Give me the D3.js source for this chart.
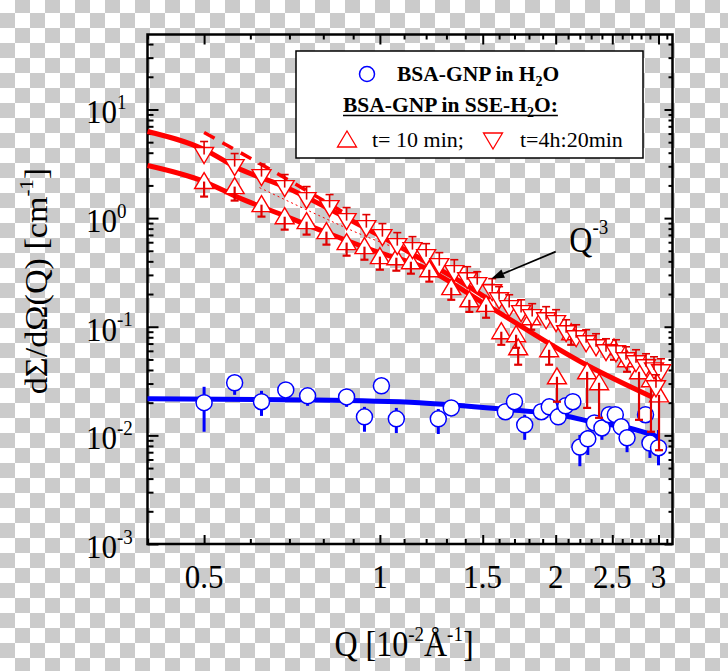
<!DOCTYPE html>
<html>
<head>
<meta charset="utf-8">
<script src="https://cdn.jsdelivr.net/npm/d3@7"></script>
<style>
html, body {margin: 0; padding: 0;}
svg {display: block; font-family: "Liberation Serif", "Times New Roman", serif;}
</style>
</head>
<body>
<script>
"use strict";

// Data (Q in 10^-2 A^-1, intensity in cm^-1)

let xMajor = [0.5, 1, 1.5, 2, 2.5, 3];
let xLabels = ["0.5", "1", "1.5", "2", "2.5", "3"];
let xMinor = [0.4, 0.6, 0.7, 0.8, 0.9, 1.1, 1.2, 1.3, 1.4, 1.6, 1.7, 1.8, 1.9,
              2.1, 2.2, 2.3, 2.4, 2.6, 2.7, 2.8, 2.9, 3.1];
let yMajor = [1e-3, 1e-2, 1e-1, 1, 10];
let yExp = ["-3", "-2", "-1", "0", "1"];

let blueQ = [0.50, 0.564, 0.627, 0.69, 0.752, 0.877, 0.941, 1.006, 1.067, 1.259, 1.325, 1.64, 1.70, 1.77, 1.89,
             1.95, 2.02, 2.08, 2.14, 2.20, 2.27, 2.33, 2.40, 2.47, 2.53, 2.59, 2.65, 2.85, 2.90, 3.0];
let blueI = [0.020, 0.0305, 0.0204, 0.0262, 0.0231, 0.0226, 0.0148, 0.0286, 0.0142, 0.0142, 0.0179, 0.0165, 0.0204, 0.0125, 0.0165,
             0.0183, 0.0148, 0.0187, 0.0204, 0.0078, 0.0093, 0.0130, 0.0117, 0.0155, 0.0155, 0.0120, 0.0095, 0.0155, 0.0085, 0.0077];
let blueLo = [0.0108, 0.0236, 0.0151, 0.0222, 0.0187, 0.0183, 0.0108, 0.0280, 0.0105, 0.0103, 0.0165, 0.0148, 0.0187, 0.0091, 0.0145,
              0.0165, 0.0128, 0.0165, 0.0187, 0.0052, 0.0066, 0.0112, 0.0091, 0.0130, 0.0139, 0.0099, 0.0070, 0.0139, 0.0062, 0.0053];
let blueHi = [0.028, 0.0353, 0.0257, 0.0286, 0.0257, 0.0257, 0.0183, 0.0292, 0.0179, 0.0175, 0.0195, 0.0187, 0.0226, 0.0155, 0.0191,
              0.0204, 0.0172, 0.0212, 0.0226, 0.0101, 0.0112, 0.0148, 0.0139, 0.0179, 0.0172, 0.0145, 0.0117, 0.0172, 0.0108, 0.0112];

// t = 10 min (up triangles)
let upQ = [0.50, 0.564, 0.627, 0.687, 0.749, 0.810, 0.877, 0.941, 1.00, 1.067, 1.13, 1.215, 1.325, 1.423, 1.52,
           1.614, 1.711, 1.725, 1.816, 1.949, 2.01, 2.126, 2.264, 2.373, 2.517, 2.65, 2.778, 2.912, 3.006];
let upI = [2.17, 1.95, 1.33, 1.03, 0.928, 0.751, 0.595, 0.546, 0.442, 0.432, 0.397, 0.335, 0.229, 0.177, 0.160,
           0.090, 0.0844, 0.064, 0.121, 0.0614, 0.0346, 0.0881, 0.0385, 0.0305, 0.064, 0.0497, 0.0385, 0.0325, 0.0236];
let upLo = [1.578, 1.450, 1.032, 0.783, 0.705, 0.570, 0.451, 0.414, 0.335, 0.328, 0.308, 0.260, 0.177, 0.137, 0.121,
            0.0682, 0.064, 0.0447, 0.0938, 0.0447, 0.0204, 0.0682, 0.0179, 0.0145, 0.0497, 0.0385, 0.0139, 0.0108, 0.0073];

// t = 4h:20min (down triangles)
let dnQ = [0.50, 0.564, 0.627, 0.687, 0.749, 0.82, 0.877, 0.948, 1.01, 1.071, 1.137, 1.20, 1.264, 1.341, 1.411,
           1.468, 1.557, 1.60, 1.665, 1.745, 1.823, 1.926, 2.003, 2.084, 2.168, 2.255, 2.345, 2.439, 2.537, 2.639,
           2.745, 2.856, 2.947, 2.97, 3.03];
let dnI = [3.85, 2.98, 2.41, 1.91, 1.48, 1.25, 0.948, 0.817, 0.675, 0.558, 0.513, 0.442, 0.365, 0.315, 0.271,
           0.244, 0.210, 0.177, 0.150, 0.135, 0.124, 0.116, 0.109, 0.0881, 0.0792, 0.0712, 0.0654, 0.0589, 0.0576, 0.0497,
           0.0466, 0.0428, 0.0401, 0.0274, 0.0385];
let dnHi = [5.07, 3.93, 3.145, 2.517, 1.951, 1.647, 1.25, 1.077, 0.890, 0.735, 0.675, 0.582, 0.481, 0.414, 0.357,
            0.321, 0.277, 0.234, 0.197, 0.177, 0.163, 0.153, 0.1435, 0.116, 0.1043, 0.0938, 0.0862, 0.0775, 0.0759, 0.0654,
            0.0614, 0.0564, 0.0529, 0.0361, 0.0507];

// fits
let fitBlueQ = [0.40, 0.752, 1.168, 1.665, 2.03, 2.31, 2.67, 3.0];
let fitBlueI = [0.0217, 0.0212, 0.0200, 0.0172, 0.0155, 0.0133, 0.0117, 0.0097];
let fitUpQ = [0.40, 0.50, 0.568, 0.692, 0.81, 0.998, 1.182, 1.539, 2.255, 2.924];
let fitUpI = [3.05, 2.17, 1.578, 1.032, 0.735, 0.481, 0.357, 0.153, 0.0447, 0.0226];
let fitDnQ = [0.40, 0.50, 0.568, 0.692, 0.81, 0.948, 1.05, 1.182, 1.33, 1.539];
let fitDnI = [6.27, 4.28, 2.92, 1.91, 1.25, 0.80, 0.595, 0.414, 0.289, 0.177];
let dashQ = [0.50, 0.627, 0.88];
let dashI = [6.14, 3.11, 1.077];
let dotQ = [0.622, 0.767, 0.948, 1.05];
let dotI = [1.91, 1.124, 0.675, 0.546];

// Layout

let frame = {left: 147.5, right: 672.5, top: 34.5, bottom: 544};
let red = "#ff0000";
let barRed = "#e00000";
let blue = "#0000ff";

let x = d3.scaleLog().domain([0.4, 3.17]).range([frame.left, frame.right]);
let y = d3.scaleLog().domain([1e-3, 49]).range([frame.bottom, frame.top]);
let yMinor = y.ticks().filter(v => !yMajor.some(m => Math.abs(m - v) / m < 1e-6));

let svg = d3.select("body").append("svg")
    .attr("width", 728)
    .attr("height", 671);

// checkerboard (transparent background look)
let pat = svg.append("defs").append("pattern")
    .attr("id", "chk")
    .attr("patternUnits", "userSpaceOnUse")
    .attr("width", 30).attr("height", 30)
    .attr("y", -2);
pat.append("rect").attr("width", 30).attr("height", 30).attr("fill", "#fff");
pat.append("rect").attr("x", 15).attr("width", 15).attr("height", 15).attr("fill", "#cbcbcb");
pat.append("rect").attr("y", 15).attr("width", 15).attr("height", 15).attr("fill", "#cbcbcb");
svg.append("rect").attr("width", 728).attr("height", 671).attr("fill", "url(#chk)");

// Axes

function axis(gen, tx, ty, values, size) {
    let g = svg.append("g")
        .attr("transform", `translate(${tx}, ${ty})`)
        .call(gen.tickValues(values).tickSize(size).tickFormat(""));
    g.select(".domain").remove();
    g.selectAll(".tick line")
        .attr("stroke", "#000")
        .attr("stroke-width", 2);
}

axis(d3.axisBottom(x), 0, frame.bottom, xMajor, -9);
axis(d3.axisBottom(x), 0, frame.bottom, xMinor, -5);
axis(d3.axisTop(x), 0, frame.top, xMajor, -10);
axis(d3.axisTop(x), 0, frame.top, xMinor, -5);
axis(d3.axisLeft(y), frame.left, 0, yMajor, -11);
axis(d3.axisLeft(y), frame.left, 0, yMinor, -6);
axis(d3.axisRight(y), frame.right, 0, yMajor, -8);
axis(d3.axisRight(y), frame.right, 0, yMinor, -4);

svg.append("rect")
    .attr("x", frame.left)
    .attr("y", frame.top)
    .attr("width", frame.right - frame.left)
    .attr("height", frame.bottom - frame.top)
    .attr("fill", "none")
    .attr("stroke", "#000")
    .attr("stroke-width", 2.5);

// Fit lines

let line = d3.line()
    .x(d => x(d[0]))
    .y(d => y(d[1]))
    .curve(d3.curveMonotoneX);

function curve(qs, is, color, width, dash) {
    svg.append("path")
        .attr("d", line(qs.map((q, i) => [q, is[i]])))
        .attr("fill", "none")
        .attr("stroke", color)
        .attr("stroke-width", width)
        .attr("stroke-dasharray", dash || null);
}

curve(fitBlueQ, fitBlueI, blue, 5);
curve(fitUpQ, fitUpI, red, 5);
curve(fitDnQ, fitDnI, red, 5);
curve(dashQ, dashI, red, 3.5, "12,9");
curve(dotQ, dotI, red, 1, "2,3");

// Points

function bars(qs, lo, hi, color, width, cap) {
    let g = svg.append("g")
        .attr("stroke", color)
        .attr("stroke-width", width);
    qs.forEach((q, i) => {
        g.append("line")
            .attr("x1", x(q)).attr("x2", x(q))
            .attr("y1", y(lo[i])).attr("y2", y(hi[i]));
        if (cap) {
            let cy = y(cap === "lo" ? lo[i] : hi[i]);
            g.append("line")
                .attr("x1", x(q) - 4).attr("x2", x(q) + 4)
                .attr("y1", cy).attr("y2", cy);
        }
    });
}

bars(blueQ, blueLo, blueHi, blue, 3);
svg.append("g").selectAll("circle")
    .data(blueQ)
    .join("circle")
    .attr("cx", d => x(d))
    .attr("cy", (d, i) => y(blueI[i]))
    .attr("r", 8)
    .attr("fill", "#fff")
    .attr("stroke", blue)
    .attr("stroke-width", 1.5);

let triUp = "M0,-9L9.5,7L-9.5,7Z";
let triDown = "M0,9L9.5,-7L-9.5,-7Z";

function triangles(qs, is, shape) {
    svg.append("g").selectAll("path")
        .data(qs)
        .join("path")
        .attr("d", shape)
        .attr("transform", (d, i) => `translate(${x(d)}, ${y(is[i])})`)
        .attr("fill", "#fff")
        .attr("stroke", red)
        .attr("stroke-width", 1.4);
}

triangles(upQ, upI, triUp);
bars(upQ, upLo, upI, barRed, 2.2, "lo");
triangles(dnQ, dnI, triDown);
bars(dnQ, dnI, dnHi, barRed, 1.6, "hi");

// Annotation Q^-3

let arrowTail = [2.0, 0.491];
let arrowTip = [1.551, 0.277];
let ax1 = x(arrowTail[0]), ay1 = y(arrowTail[1]);
let ax2 = x(arrowTip[0]), ay2 = y(arrowTip[1]);
let ang = Math.atan2(ay2 - ay1, ax2 - ax1);
let hl = 13, hw = 4.5;
svg.append("line")
    .attr("x1", ax1).attr("y1", ay1)
    .attr("x2", ax2 - Math.cos(ang) * hl).attr("y2", ay2 - Math.sin(ang) * hl)
    .attr("stroke", "#000")
    .attr("stroke-width", 1.8);
let bx = ax2 - Math.cos(ang) * hl, by = ay2 - Math.sin(ang) * hl;
svg.append("path")
    .attr("d", `M${ax2},${ay2}L${bx - Math.sin(ang) * hw},${by + Math.cos(ang) * hw}` +
               `L${bx + Math.sin(ang) * hw},${by - Math.cos(ang) * hw}Z`)
    .attr("fill", "#000");

let qLab = svg.append("text")
    .attr("transform", `translate(${x(2.11)}, ${y(0.49)}) scale(1,1.1)`)
    .attr("font-size", 32);
qLab.append("tspan").text("Q");
qLab.append("tspan").attr("font-size", 19).attr("dy", -16).text("-3");

// Tick labels

svg.append("g").selectAll("text")
    .data(xMajor)
    .join("text")
    .attr("transform", d => `translate(${x(d)}, 588) scale(1,1.1)`)
    .attr("text-anchor", "middle")
    .attr("font-size", 31)
    .text((d, i) => xLabels[i]);

yMajor.forEach((v, i) => {
    let t = svg.append("text")
        .attr("transform", `translate(86, ${y(v) + 14}) scale(1,1.1)`)
        .attr("font-size", 31);
    t.append("tspan").text("10");
    t.append("tspan").attr("font-size", 19).attr("dy", -13).text(yExp[i]);
});

// Axis titles

let xt = svg.append("text")
    .attr("transform", "translate(404, 656) scale(1,1.1)")
    .attr("text-anchor", "middle")
    .attr("font-size", 32);
xt.append("tspan").text("Q [10");
xt.append("tspan").attr("font-size", 19).attr("dy", -14).text("-2");
xt.append("tspan").attr("dy", 14).text("Å");
xt.append("tspan").attr("font-size", 19).attr("dy", -14).text("-1");
xt.append("tspan").attr("dy", 14).text("]");

let yt = svg.append("text")
    .attr("transform", "translate(47, 281) scale(1,1.1) rotate(-90)")
    .attr("text-anchor", "middle")
    .attr("font-size", 31);
yt.append("tspan").text("dΣ/dΩ(Q) [cm");
yt.append("tspan").attr("font-size", 19).attr("dy", -14).text("-1");
yt.append("tspan").attr("dy", 14).text("]");

// Legend

let lg = svg.append("g");
lg.append("rect")
    .attr("x", 296).attr("y", 51)
    .attr("width", 347).attr("height", 107)
    .attr("fill", "#fff")
    .attr("stroke", "#000")
    .attr("stroke-width", 1.5);
lg.append("circle")
    .attr("cx", 367).attr("cy", 74).attr("r", 7.5)
    .attr("fill", "#fff").attr("stroke", blue).attr("stroke-width", 1.5);

let l1 = lg.append("text").attr("x", 397).attr("y", 81)
    .attr("font-size", 21.5).attr("font-weight", "bold");
l1.append("tspan").text("BSA-GNP in H");
l1.append("tspan").attr("font-size", 14).attr("dy", 5).text("2");
l1.append("tspan").attr("dy", -5).text("O");

let l2 = lg.append("text").attr("x", 343).attr("y", 112)
    .attr("font-size", 21.5).attr("font-weight", "bold");
l2.append("tspan").text("BSA-GNP in SSE-H");
l2.append("tspan").attr("font-size", 14).attr("dy", 5).text("2");
l2.append("tspan").attr("dy", -5).text("O:");
let l2w = l2.node().getComputedTextLength();
lg.append("line")
    .attr("x1", 343).attr("x2", 343 + l2w)
    .attr("y1", 115.5).attr("y2", 115.5)
    .attr("stroke", "#000").attr("stroke-width", 1.5);

lg.append("path").attr("d", triUp).attr("transform", "translate(347, 140)")
    .attr("fill", "#fff").attr("stroke", red).attr("stroke-width", 1.3);
lg.append("text").attr("x", 372).attr("y", 147).attr("font-size", 22).text("t= 10 min;");
lg.append("path").attr("d", triDown).attr("transform", "translate(493, 140)")
    .attr("fill", "#fff").attr("stroke", red).attr("stroke-width", 1.3);
lg.append("text").attr("x", 520).attr("y", 147).attr("font-size", 22).text("t=4h:20min");
</script>
</body>
</html>
